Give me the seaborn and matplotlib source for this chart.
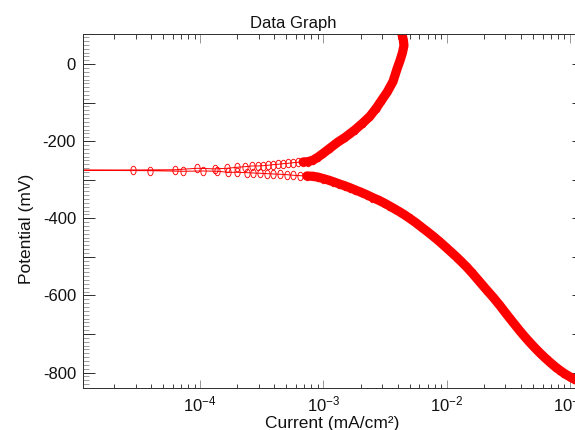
import numpy as np
import pandas as pd
import matplotlib
matplotlib.use("Agg")
import matplotlib.pyplot as plt
from matplotlib.path import Path
from matplotlib.ticker import (LogLocator, LogFormatterSciNotation, MultipleLocator,
                               FuncFormatter, NullFormatter, NullLocator)
import seaborn as sns

# ---- polarization data (current in mA/cm², potential in mV) ----
# cathodic branch, listed from E_corr outward
cathodic_current = [
    3.88e-5, 7.28e-5, 1.05e-4, 1.37e-4, 1.69e-4, 2.00e-4, 2.39e-4, 2.69e-4,
    3.07e-4, 3.48e-4, 3.91e-4, 4.46e-4, 5.05e-4, 5.68e-4, 6.47e-4, 7.33e-4,
    8.24e-4, 9.10e-4, 1.00e-3, 1.10e-3, 1.20e-3, 1.35e-3, 1.50e-3, 1.65e-3,
    1.80e-3, 2.00e-3, 2.25e-3, 2.50e-3, 2.80e-3, 3.10e-3, 3.40e-3, 3.80e-3,
    4.20e-3, 4.60e-3, 5.00e-3, 5.60e-3, 6.20e-3, 7.00e-3, 7.80e-3, 8.80e-3,
    1.00e-2, 1.10e-2, 1.20e-2, 1.33e-2, 1.46e-2, 1.62e-2, 1.80e-2, 2.10e-2,
    2.40e-2, 2.70e-2, 3.00e-2, 3.30e-2, 3.60e-2, 3.90e-2, 4.30e-2, 4.70e-2,
    5.20e-2, 5.70e-2, 6.10e-2, 6.60e-2, 7.10e-2, 7.60e-2, 8.20e-2, 8.80e-2,
    9.40e-2, 1.00e-1, 1.07e-1, 1.15e-1, 1.25e-1,
]
cathodic_potential = [
    -276.4, -278.0, -277.2, -278.0, -280.6, -280.6, -281.6, -282.4,
    -283.2, -284.2, -285.0, -285.8, -286.8, -288.3, -289.4, -290.2,
    -291.0, -293.5, -297.0, -301.0, -305.0, -311.0, -316.0, -321.0,
    -326.0, -332.0, -339.0, -346.0, -353.0, -360.0, -367.0, -376.0,
    -384.0, -392.0, -400.0, -411.0, -422.0, -435.0, -447.0, -461.0,
    -477.0, -489.0, -500.0, -514.0, -527.0, -543.0, -560.0, -585.0,
    -606.0, -626.0, -645.0, -662.0, -677.0, -691.0, -707.0, -721.0,
    -736.0, -749.0, -758.0, -768.0, -777.0, -785.0, -793.0, -800.0,
    -806.0, -811.0, -816.0, -821.0, -826.0,
]
# anodic branch, listed from E_corr outward
anodic_current = [
    5.00e-6, 2.86e-5, 6.27e-5, 9.51e-5, 1.31e-4, 1.66e-4, 2.00e-4, 2.32e-4,
    2.64e-4, 2.95e-4, 3.25e-4, 3.56e-4, 3.91e-4, 4.29e-4, 4.71e-4, 5.17e-4,
    5.68e-4, 6.24e-4, 6.84e-4, 7.51e-4, 8.24e-4, 9.06e-4, 1.00e-3, 1.13e-3,
    1.30e-3, 1.50e-3, 1.65e-3, 1.81e-3, 2.10e-3, 2.39e-3, 2.70e-3, 2.99e-3,
    3.30e-3, 3.67e-3, 3.96e-3, 4.19e-3, 4.38e-3, 4.50e-3, 4.45e-3, 4.33e-3,
    4.28e-3,
]
anodic_potential = [
    -275.0, -274.6, -274.0, -270.2, -271.8, -270.2, -267.6, -266.0,
    -264.2, -264.2, -263.5, -262.4, -260.9, -259.8, -258.3, -257.3,
    -255.7, -254.7, -253.9, -253.1, -249.0, -241.0, -231.0, -218.0,
    -203.0, -190.0, -180.0, -170.0, -152.0, -135.0, -113.0, -92.0,
    -72.0, -45.0, -12.0, 10.0, 30.0, 48.0, 62.0, 78.0,
    90.0,
]

cath = pd.DataFrame({"current": cathodic_current, "potential": cathodic_potential})
anod = pd.DataFrame({"current": anodic_current, "potential": anodic_potential})
# scan order: cathodic limit -> E_corr -> anodic limit
scan = pd.concat([cath.iloc[::-1], anod], ignore_index=True)

sns.set_theme(style="white", rc={"axes.facecolor": "white", "figure.facecolor": "white"})
plt.rcParams["font.family"] = ["Liberation Sans", "DejaVu Sans"]
plt.rcParams["mathtext.fontset"] = "custom"
plt.rcParams["mathtext.rm"] = "Liberation Sans"
plt.rcParams["mathtext.it"] = "Liberation Sans:italic"
plt.rcParams["mathtext.bf"] = "Liberation Sans:bold"

W, H = 575, 430
fig = plt.figure(figsize=(W / 100, H / 100), dpi=100)
left, right, top, bottom = 83, 576, 34, 388
ax = fig.add_axes([left / W, 1 - bottom / H, (right - left) / W, (bottom - top) / H])

RED = "#ff0000"
px = 72 / 100  # points per pixel

# open, slightly tall oval marker
t = np.linspace(0, 2 * np.pi, 48)
oval = Path(np.column_stack([0.62 * np.cos(t), np.sin(t)]), closed=True)

# dense part of each branch drawn as a solid band
for branch in (cath, anod):
    dense = branch[branch["current"] >= 6.8e-4]
    sns.lineplot(data=dense, x="current", y="potential", sort=False, estimator=None,
                 ax=ax, color=RED, lw=9.2 * px, solid_capstyle="round",
                 solid_joinstyle="round")

# measured points with connecting trace
sns.lineplot(data=scan, x="current", y="potential", sort=False, estimator=None,
             ax=ax, color=RED, lw=1.0 * px, marker=oval, markersize=8.5 * px,
             markerfacecolor="none", markeredgecolor=RED, markeredgewidth=0.9 * px)

ax.set_xscale("log")
ax.set_xlim(1.12e-5, 0.112)
ax.set_ylim(-840, 78)

# x axis: decades, with minor ticks in between
ax.xaxis.set_major_locator(LogLocator(base=10))
ax.xaxis.set_minor_locator(LogLocator(base=10, subs=np.arange(2, 10)))
ax.xaxis.set_major_formatter(LogFormatterSciNotation())
ax.xaxis.set_minor_formatter(NullFormatter())
ax.tick_params(axis="x", which="major", direction="in", bottom=True, top=True,
               length=8.5 * px, width=1.0 * px, color="#9a9a9a",
               labelsize=12, labelcolor="#111111", pad=5)
ax.tick_params(axis="x", which="minor", direction="in", bottom=True, top=True,
               length=4.5 * px, width=1.0 * px, color="#444444")

# y axis: long ticks every 100 mV, labels every 200 mV, minor every 10 mV
ax.yaxis.set_major_locator(MultipleLocator(100))
ax.yaxis.set_minor_locator(MultipleLocator(10))
ax.yaxis.set_major_formatter(FuncFormatter(
    lambda v, p: f"{int(round(v))}" if int(round(v)) % 200 == 0 else ""))
ax.tick_params(axis="y", which="major", direction="in", left=True, right=False,
               length=12 * px, width=1.0 * px, color="#333333",
               labelsize=12, labelcolor="#111111", pad=5)
ax.tick_params(axis="y", which="minor", direction="in", left=True, right=False,
               length=6 * px, width=1.0 * px, color="#a0a0a0")

sec = ax.secondary_yaxis("right")
sec.yaxis.set_major_locator(MultipleLocator(100))
sec.yaxis.set_minor_locator(NullLocator())
sec.yaxis.set_major_formatter(NullFormatter())
sec.tick_params(axis="y", which="major", direction="in", length=4.5 * px,
                width=1.0 * px, color="#333333")
sec.spines["right"].set_visible(False)

for side in ("left", "top", "bottom"):
    ax.spines[side].set_color("#333333")
    ax.spines[side].set_linewidth(1.0 * px)
ax.spines["right"].set_visible(False)
ax.grid(False)

ax.set_title("Data Graph", fontsize=12, color="#111111",
             x=(293.3 - left) / (right - left), y=1 + (top - 27.7) / (bottom - top), pad=0)
ax.set_xlabel("Current (mA/cm²)", fontsize=12.5, color="#111111")
ax.set_ylabel("Potential (mV)", fontsize=12.5, color="#111111")
ax.xaxis.set_label_coords((332.5 - left) / (right - left), -(416 - bottom) / (bottom - top))
ax.yaxis.set_label_coords((34 - left) / (right - left), (bottom - 229) / (bottom - top))

fig.savefig("out.png", dpi=100)
